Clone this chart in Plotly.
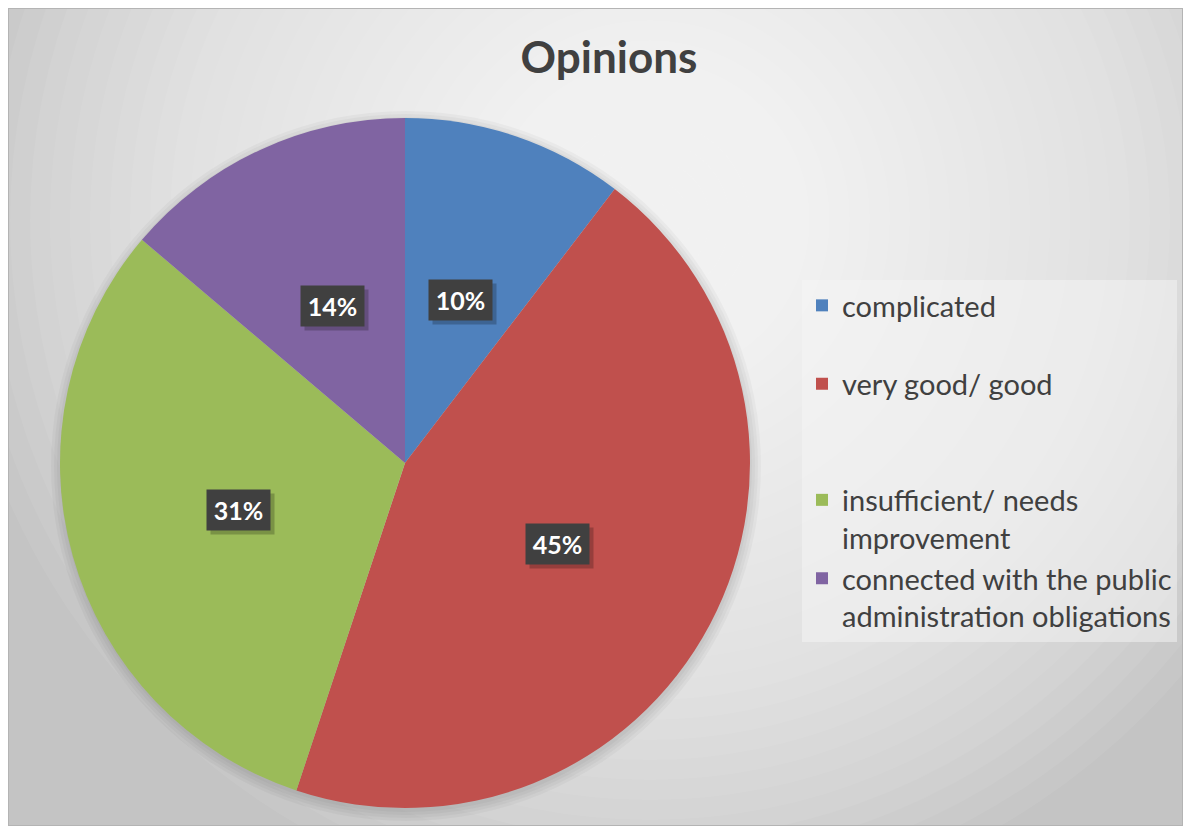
import math
import plotly.graph_objects as go

# ---- data ----
labels = ["complicated", "very good/ good", "insufficient/ needs improvement",
          "connected with the public administration obligations"]
values = [10.4, 44.7, 31.1, 13.8]
colors = ["#4F81BD", "#C0504D", "#9BBB59", "#8064A2"]
title_text = "Opinions"

# legend display text (wrapped like the reference)
legend_text = ["complicated<br> ", "very good/ good<br> <br> ",
               "insufficient/ needs<br>improvement",
               "connected with the public<br>administration obligations"]

W, H = 1175, 818
OFF = 8  # body margin of the page


def px(x):
    return (x - OFF) / W


def py(y):
    return 1 - (y - OFF) / H


# pie geometry (page pixels)
CX, CY, R = 405, 463, 345

fig = go.Figure()
fig.add_trace(go.Pie(
    labels=legend_text,
    values=values,
    sort=False,
    direction="clockwise",
    rotation=0,
    marker=dict(colors=colors, line=dict(width=0)),
    textinfo="none",
    hoverinfo="label+percent",
    domain=dict(x=[px(CX - R), px(CX + R)], y=[py(CY + R), py(CY - R)]),
))

shapes = []
# radial gradient background (stacked translucent white discs)
GX, GY = 650, 220
for k in range(35, 0, -1):
    r = 20 * k
    shapes.append(dict(type="circle", xref="paper", yref="paper", layer="below",
                       x0=px(GX - r), x1=px(GX + r), y0=py(GY + r), y1=py(GY - r),
                       fillcolor="white", opacity=0.063, line=dict(width=0)))
# soft shadow behind pie
for d in (10, 7, 4, 1):
    shapes.append(dict(type="circle", xref="paper", yref="paper", layer="below",
                       x0=px(CX - R - d + 1), x1=px(CX + R + d + 1),
                       y0=py(CY + R + d + 3), y1=py(CY - R - d + 3),
                       fillcolor="black", opacity=0.03, line=dict(width=0)))
# chart border
shapes.append(dict(type="rect", xref="paper", yref="paper", layer="above",
                   x0=0, x1=1, y0=0, y1=1, line=dict(color="#B4B4B4", width=2),
                   fillcolor="rgba(0,0,0,0)"))

# data labels at half radius on mid-angle of each slice
annotations = []
total = sum(values)
cum = 0.0
for v in values:
    mid = (cum + v / 2) / total * 2 * math.pi
    cum += v
    lx = CX + 0.5 * R * math.sin(mid)
    ly = CY - 0.5 * R * math.cos(mid)
    txt = f"{round(v / total * 100)}%"
    # shadow
    annotations.append(dict(x=px(lx + 4), y=py(ly + 4), xref="paper", yref="paper",
                            xanchor="center", yanchor="middle",
                            text=" ", showarrow=False, width=63, height=40,
                            bgcolor="rgba(0,0,0,0.22)", borderpad=0))
    annotations.append(dict(x=px(lx), y=py(ly), xref="paper", yref="paper",
                            xanchor="center", yanchor="middle",
                            text=txt, showarrow=False, width=63, height=40,
                            bgcolor="#404040", borderpad=0,
                            font=dict(family="Lato", size=25, color="white",
                                      weight="bold")))

fig.update_layout(
    width=W, height=H,
    margin=dict(l=0, r=0, t=0, b=0),
    paper_bgcolor="#C4C4C4",
    plot_bgcolor="rgba(0,0,0,0)",
    title=dict(text=title_text, x=px(609), y=py(58), xanchor="center",
               yanchor="middle",
               font=dict(family="Lato", size=44, color="#404040", weight="bold")),
    legend=dict(x=px(802), y=py(280), xanchor="left", yanchor="top",
                bgcolor="rgba(245,245,245,0.5)", valign="top",
                font=dict(family="Lato", size=29, color="#404040")),
    shapes=shapes,
    annotations=annotations,
)

fig.write_html("out.html")
